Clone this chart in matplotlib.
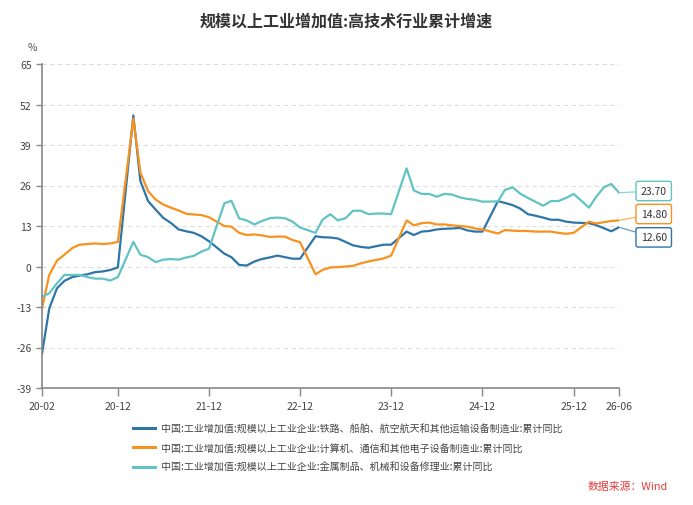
import numpy as np
import pandas as pd
import matplotlib
matplotlib.use("Agg")
import matplotlib.pyplot as plt
import matplotlib.dates as mdates

plt.rcParams['font.family'] = ['Noto Sans CJK SC', 'DejaVu Sans']
plt.rcParams['axes.unicode_minus'] = False

# %% data (monthly cumulative, no January release)

months = pd.date_range("2020-02-01", "2026-06-01", freq="MS")
months = months[months.month != 1]

rail_ship_aero = [
    -28.0, -13.5, -7.0, -4.6, -3.4, -2.9, -2.5, -1.8, -1.6, -1.1, -0.3,
    48.5, 27.5, 21.0, 18.3, 15.6, 14.0, 11.9, 11.3, 10.8, 9.7, 8.1,
    4.1, 3.0, 0.5, 0.3, 1.6, 2.4, 2.9, 3.5, 3.0, 2.5, 2.5,
    9.7, 9.4, 9.3, 9.0, 7.9, 6.8, 6.3, 6.0, 6.5, 7.0, 7.0,
    11.2, 10.1, 11.2, 11.4, 11.9, 12.1, 12.2, 12.4, 11.6, 11.2, 11.2,
    21.0, 20.4, 19.7, 18.6, 16.8, 16.3, 15.7, 15.0, 15.0, 14.4, 14.1,
    13.9, 13.3, 12.3, 11.3, 12.6,
]
computer_elec = [
    -13.5, -2.7, 1.9, 3.8, 5.9, 7.0, 7.2, 7.4, 7.2, 7.4, 7.9,
    47.5, 30.2, 24.2, 21.5, 19.9, 18.9, 18.0, 16.9, 16.7, 16.5, 15.8,
    13.0, 12.8, 10.8, 10.1, 10.3, 10.0, 9.5, 9.6, 9.6, 8.5, 7.8,
    -2.5, -1.1, -0.3, -0.2, 0.0, 0.2, 1.0, 1.6, 2.1, 2.6, 3.5,
    14.8, 13.2, 13.9, 14.1, 13.5, 13.5, 13.2, 13.0, 12.8, 12.2, 11.9,
    10.6, 11.7, 11.5, 11.4, 11.4, 11.2, 11.2, 11.2, 10.8, 10.5, 10.8,
    14.4, 13.8, 14.2, 14.6, 14.8,
]
metal_repair = [
    -9.7, -8.6, -5.4, -2.7, -2.7, -2.7, -3.4, -3.9, -3.9, -4.5, -3.4,
    7.9, 3.8, 3.0, 1.4, 2.2, 2.4, 2.2, 2.9, 3.4, 4.8, 5.7,
    20.3, 21.1, 15.4, 14.8, 13.5, 14.6, 15.5, 15.7, 15.5, 14.4, 12.5,
    10.8, 15.0, 16.8, 14.8, 15.5, 17.9, 17.9, 16.8, 17.0, 17.0, 16.8,
    31.5, 24.4, 23.3, 23.3, 22.4, 23.3, 23.1, 22.2, 21.7, 21.4, 20.8,
    20.9, 24.6, 25.4, 23.4, 22.0, 20.8, 19.5, 21.0, 21.0, 22.0, 23.3,
    18.9, 22.3, 25.4, 26.5, 23.7,
]

names = [
    "中国:工业增加值:规模以上工业企业:铁路、船舶、航空航天和其他运输设备制造业:累计同比",
    "中国:工业增加值:规模以上工业企业:计算机、通信和其他电子设备制造业:累计同比",
    "中国:工业增加值:规模以上工业企业:金属制品、机械和设备修理业:累计同比",
]
colors = ["#2E75A8", "#F7921E", "#62C3C4"]

x_ticks = ["2020-02", "2020-12", "2021-12", "2022-12", "2023-12", "2024-12", "2025-12", "2026-06"]
y_ticks = np.arange(-39, 66, 13)

# %% plot

fig = plt.figure(figsize=(6.93, 5.06), dpi=100)
ax = fig.add_axes([42 / 693, 1 - 389 / 506, (619 - 42) / 693, (389 - 65) / 506])

series = [rail_ship_aero, computer_elec, metal_repair]
for vals, c, name in zip(series, colors, names):
    ax.plot(months, vals, color=c, lw=1.6, label=name)

ax.set_xlim(months[0], months[-1])
ax.set_ylim(-39, 65)

tick_dates = pd.to_datetime(x_ticks)
ax.set_xticks(tick_dates)
ax.xaxis.set_major_formatter(mdates.DateFormatter("%y-%m"))
ax.set_yticks(y_ticks)

ax.tick_params(axis="both", colors="#888888", labelcolor="#444444", labelsize=7.5,
               length=6, width=1)
ax.tick_params(axis="y", length=4)
for s in ["top", "right"]:
    ax.spines[s].set_visible(False)
for s in ["left", "bottom"]:
    ax.spines[s].set_color("#888888")
    ax.spines[s].set_linewidth(1.2)

ax.yaxis.grid(True, linestyle=(0, (4, 3)), color="#dddddd", lw=0.8)
ax.set_axisbelow(True)

# end-value labels
offsets = [-7.3, 4.6, 1.2]
for vals, c, dy in zip(series, colors, offsets):
    ax.annotate(f"{vals[-1]:.2f}", xy=(months[-1], vals[-1]), xytext=(25, dy),
                textcoords="offset points", ha="center", va="center",
                fontsize=7.5, color="#333333", annotation_clip=False,
                bbox=dict(boxstyle="round,pad=0.45,rounding_size=0.2", fc="white", ec=c, lw=1),
                arrowprops=dict(arrowstyle="-", color=c, lw=0.8, alpha=0.8,
                                shrinkA=0, shrinkB=0))

fig.text(0.5, 1 - 22 / 506, "规模以上工业增加值:高技术行业累计增速", ha="center", va="center",
         fontsize=11.5, fontweight="bold", color="#333333")
fig.text(32 / 693, 1 - 48 / 506, "%", ha="center", va="center", fontsize=7.5, color="#555555")

leg = fig.legend(loc="upper left", bbox_to_anchor=(124 / 693, 1 - 415 / 506), frameon=False,
                 fontsize=7.2, handlelength=2.2, handletextpad=0.6, labelspacing=0.95)
for t in leg.get_texts():
    t.set_color("#444444")
for l in leg.get_lines():
    l.set_linewidth(2.2)

fig.text(668 / 693, 1 - 487 / 506, "数据来源：Wind", ha="right", va="center",
         fontsize=7.8, color="#E33A3A")

fig.savefig("out.png", dpi=100)
